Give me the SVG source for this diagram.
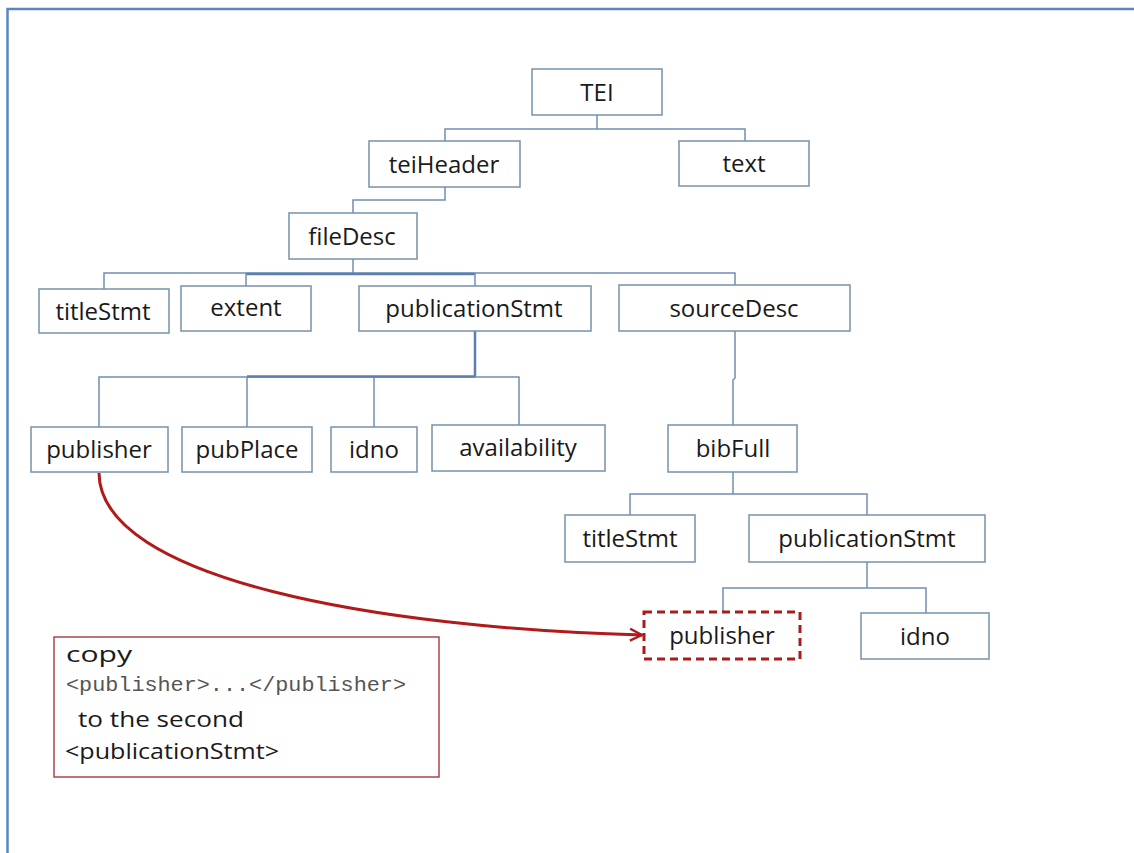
<svg xmlns="http://www.w3.org/2000/svg" width="1134" height="853" viewBox="0 0 1134 853">
<style>
.bg{fill:#ffffff}
.frame{fill:none;stroke:#5a86c4;stroke-width:2.5}
.node rect{fill:#ffffff;stroke:#7791ab;stroke-width:1.5}
.node text{font-family:"Open Sans","Noto Sans",sans-serif;font-size:24px;fill:#1a1a1a;text-anchor:middle}
.conn line,.conn polyline{fill:none;stroke:#6f8fb2;stroke-width:1.5}
.conn .thick{stroke:#5b7fb0;stroke-width:2.5}
#pub2 rect{stroke:#a81c1c;stroke-width:3;stroke-dasharray:8 5}
.note rect{fill:#ffffff;stroke:#a8464e;stroke-width:1.5}
.note text{font-family:"Open Sans","Noto Sans",sans-serif;font-size:22px;fill:#1a1a1a}
.note .mono{font-family:"Liberation Mono","Courier New",monospace;font-size:21px;fill:#555555}
.arrow{fill:none;stroke:#b01a1a;stroke-width:3}
</style>
<defs>
<marker id="ah" viewBox="0 0 14 14" refX="13" refY="7" markerWidth="14" markerHeight="14" markerUnits="userSpaceOnUse" orient="auto">
<path d="M1,1 L13,7 L1,13" fill="none" stroke="#b01a1a" stroke-width="2.4"/>
</marker>
</defs>
<rect class="bg" x="0" y="0" width="1134" height="853"/>
<rect class="frame" x="7.5" y="9" width="1140" height="860"/>

<g id="connectors" class="conn">
<polyline points="597,115 597,129"/>
<polyline points="445,141 445,129 745,129 745,141"/>
<polyline points="445,187 445,200 353,200 353,213"/>
<line x1="353" y1="259" x2="353" y2="273"/>
<polyline points="104,289 104,273 735,273 735,285"/>
<line class="thick" x1="246" y1="274" x2="475" y2="274"/>
<line x1="246" y1="273" x2="246" y2="286"/>
<line x1="475" y1="273" x2="475" y2="286"/>
<line class="thick" x1="475" y1="331" x2="475" y2="377"/>
<polyline points="99,427 99,377 519,377 519,425"/>
<line class="thick" x1="247" y1="376.5" x2="475" y2="376.5"/>
<line x1="247" y1="377" x2="247" y2="427"/>
<line x1="374" y1="377" x2="374" y2="427"/>
<polyline points="735,331 735,378 733,380 733,425"/>
<line x1="733" y1="472" x2="733" y2="494"/>
<polyline points="630,515 630,494 867,494 867,515"/>
<line x1="867" y1="562" x2="867" y2="588"/>
<polyline points="723,612 723,588 926,588 926,613"/>
</g>

<g id="n-tei" class="node"><rect x="532" y="69" width="130" height="46"/><text x="597" y="101">TEI</text></g>
<g id="n-teiheader" class="node"><rect x="369" y="141" width="151" height="46"/><text x="444" y="173">teiHeader</text></g>
<g id="n-text" class="node"><rect x="679" y="141" width="130" height="45"/><text x="744" y="172">text</text></g>
<g id="n-filedesc" class="node"><rect x="289" y="213" width="128" height="46"/><text x="352" y="245">fileDesc</text></g>
<g id="n-titlestmt" class="node"><rect x="39" y="289" width="130" height="44"/><text x="103" y="320">titleStmt</text></g>
<g id="n-extent" class="node"><rect x="181" y="286" width="130" height="45"/><text x="246" y="316">extent</text></g>
<g id="n-pubstmt" class="node"><rect x="359" y="286" width="232" height="45"/><text x="474" y="317">publicationStmt</text></g>
<g id="n-sourcedesc" class="node"><rect x="619" y="285" width="231" height="46"/><text x="734" y="317">sourceDesc</text></g>
<g id="n-publisher" class="node"><rect x="31" y="427" width="137" height="45"/><text x="99" y="458">publisher</text></g>
<g id="n-pubplace" class="node"><rect x="182" y="427" width="130" height="45"/><text x="247" y="458">pubPlace</text></g>
<g id="n-idno" class="node"><rect x="331" y="427" width="86" height="45"/><text x="374" y="458">idno</text></g>
<g id="n-availability" class="node"><rect x="432" y="425" width="173" height="46"/><text x="518" y="456">availability</text></g>
<g id="n-bibfull" class="node"><rect x="668" y="425" width="129" height="47"/><text x="733" y="457">bibFull</text></g>
<g id="n-titlestmt2" class="node"><rect x="565" y="515" width="130" height="47"/><text x="630" y="547">titleStmt</text></g>
<g id="n-pubstmt2" class="node"><rect x="749" y="515" width="236" height="47"/><text x="867" y="547">publicationStmt</text></g>
<g id="pub2" class="node"><rect x="644" y="612" width="156" height="47"/><text x="722" y="644">publisher</text></g>
<g id="n-idno2" class="node"><rect x="861" y="613" width="128" height="46"/><text x="925" y="645">idno</text></g>

<g id="copy-arrow">
<path class="arrow" d="M99,473 C100,580 380,628 642,635" marker-end="url(#ah)"/>
</g>

<g id="note" class="note">
<rect x="54" y="637" width="385" height="140"/>
<text x="66" y="662" textLength="66" lengthAdjust="spacingAndGlyphs">copy</text>
<text class="mono" x="66" y="691" textLength="340" lengthAdjust="spacingAndGlyphs">&lt;publisher&gt;...&lt;/publisher&gt;</text>
<text x="78" y="727" textLength="166" lengthAdjust="spacingAndGlyphs">to the second</text>
<text x="65" y="759" textLength="214" lengthAdjust="spacingAndGlyphs">&lt;publicationStmt&gt;</text>
</g>
</svg>
